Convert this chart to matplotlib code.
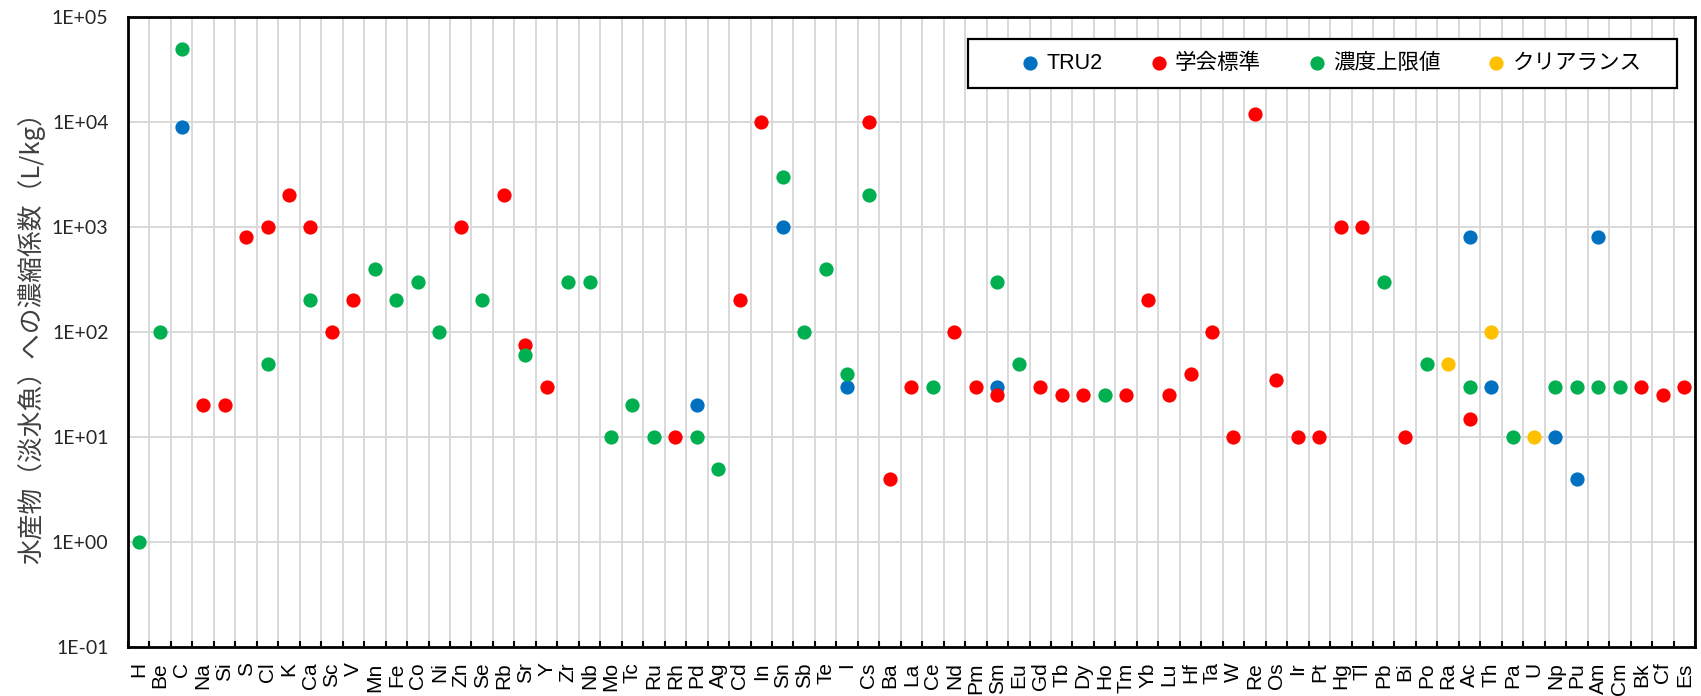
import numpy as np
import matplotlib
matplotlib.use("Agg")
import matplotlib.pyplot as plt
from matplotlib.ticker import FixedLocator, FuncFormatter, NullFormatter
from matplotlib.patches import Rectangle

# element order on the x axis
elements = ["H", "Be", "C", "Na", "Si", "S", "Cl", "K", "Ca", "Sc", "V", "Mn", "Fe", "Co",
            "Ni", "Zn", "Se", "Rb", "Sr", "Y", "Zr", "Nb", "Mo", "Tc", "Ru", "Rh", "Pd", "Ag",
            "Cd", "In", "Sn", "Sb", "Te", "I", "Cs", "Ba", "La", "Ce", "Nd", "Pm", "Sm", "Eu",
            "Gd", "Tb", "Dy", "Ho", "Tm", "Yb", "Lu", "Hf", "Ta", "W", "Re", "Os", "Ir", "Pt",
            "Hg", "Tl", "Pb", "Bi", "Po", "Ra", "Ac", "Th", "Pa", "U", "Np", "Pu", "Am", "Cm",
            "Bk", "Cf", "Es"]

# TRU2
tru2_el = ["C", "Pd", "Sn", "I", "Sm", "Ac", "Th", "Np", "Pu", "Am"]
tru2_val = [9000, 20, 1000, 30, 30, 800, 30, 10, 4, 800]

# 学会標準
gakkai_el = ["Na", "Si", "S", "Cl", "K", "Ca", "Sc", "V", "Zn", "Rb", "Sr", "Y", "Rh", "Cd",
             "In", "Cs", "Ba", "La", "Nd", "Pm", "Sm", "Gd", "Tb", "Dy", "Tm", "Yb", "Lu",
             "Hf", "Ta", "W", "Re", "Os", "Ir", "Pt", "Hg", "Tl", "Bi", "Ac", "Bk", "Cf", "Es"]
gakkai_val = [20, 20, 800, 1000, 2000, 1000, 100, 200, 1000, 2000, 75, 30, 10, 200,
              10000, 10000, 4, 30, 100, 30, 25, 30, 25, 25, 25, 200, 25,
              40, 100, 10, 12000, 35, 10, 10, 1000, 1000, 10, 15, 30, 25, 30]

# 濃度上限値
jougen_el = ["H", "Be", "C", "Cl", "Ca", "Mn", "Fe", "Co", "Ni", "Se", "Sr", "Zr", "Nb", "Mo",
             "Tc", "Ru", "Pd", "Ag", "Sn", "Sb", "Te", "I", "Cs", "Ce", "Sm", "Eu", "Ho", "Pb",
             "Po", "Ac", "Pa", "Np", "Pu", "Am", "Cm"]
jougen_val = [1, 100, 50000, 50, 200, 400, 200, 300, 100, 200, 60, 300, 300, 10,
              20, 10, 10, 5, 3000, 100, 400, 40, 2000, 30, 300, 50, 25, 300,
              50, 30, 10, 30, 30, 30, 30]

# クリアランス
clear_el = ["Ra", "Th", "U"]
clear_val = [50, 100, 10]

series = [
    ("TRU2", tru2_el, tru2_val, "#0070C0"),
    ("学会標準", gakkai_el, gakkai_val, "#FF0000"),
    ("濃度上限値", jougen_el, jougen_val, "#00B050"),
    ("クリアランス", clear_el, clear_val, "#FFC000"),
]

fig = plt.figure(figsize=(17.01, 6.96), dpi=100)
ax = fig.add_axes([0.07525, 0.0704, 0.92122, 0.90517])

for i, (name, els, vals, col) in enumerate(series):
    xs = [elements.index(e) for e in els]
    ax.scatter(xs, vals, s=105, color=col, linewidths=0, zorder=3 + i, label=name)

ax.set_yscale("log")
ax.set_ylim(0.1, 1e5)
ax.set_xlim(-0.5, len(elements) - 0.5)

# y axis
ax.yaxis.set_major_locator(FixedLocator([10.0 ** k for k in range(-1, 6)]))
ax.yaxis.set_minor_locator(FixedLocator([]))
ax.yaxis.set_major_formatter(FuncFormatter(lambda v, p: "1E%+03d" % int(round(np.log10(v)))))
ax.tick_params(axis="y", which="major", length=0, pad=14, labelsize=14, labelcolor="#262626")
for lab in ax.get_yticklabels():
    lab.set_fontfamily("Lato")

# x axis: labels at centres, ticks and grid at boundaries
ax.set_xticks(np.arange(len(elements)))
ax.set_xticklabels(elements, rotation=90, fontfamily="Liberation Sans", fontsize=15)
ax.xaxis.set_minor_locator(FixedLocator(np.arange(len(elements) + 1) - 0.5))
ax.xaxis.set_minor_formatter(NullFormatter())
ax.tick_params(axis="x", which="major", length=0, pad=11)
ax.tick_params(axis="x", which="minor", direction="in", length=4, width=1.5, color="black")

ax.grid(True, axis="x", which="minor", color="#D9D9D9", linewidth=1.4, zorder=0)
ax.grid(True, axis="y", which="major", color="#D9D9D9", linewidth=1.4, zorder=0)
ax.grid(False, axis="x", which="major")
ax.set_axisbelow(True)

for sp in ax.spines.values():
    sp.set_linewidth(2.0)
    sp.set_color("black")
    sp.set_zorder(10)

ax.set_ylabel("水産物（淡水魚）への濃縮係数（L/kg）", fontfamily="Noto Sans CJK JP",
              fontsize=18.5, color="#404040", labelpad=5)

# legend frame drawn separately, entries placed inside
frame = Rectangle((0.536, 0.8873), 0.4525, 0.0778, transform=ax.transAxes,
                  facecolor="white", edgecolor="black", linewidth=1.6, zorder=20)
ax.add_patch(frame)
leg = ax.legend(loc="center left", bbox_to_anchor=(0.569, 0.926), ncol=4, frameon=False,
                prop={"family": ["Liberation Sans", "Noto Sans CJK JP"], "size": 15.5},
                handlelength=1.0, handletextpad=0.25, columnspacing=2.1, borderpad=0,
                borderaxespad=0, scatterpoints=1)
leg.set_zorder(21)

fig.savefig("out.png", dpi=100)
